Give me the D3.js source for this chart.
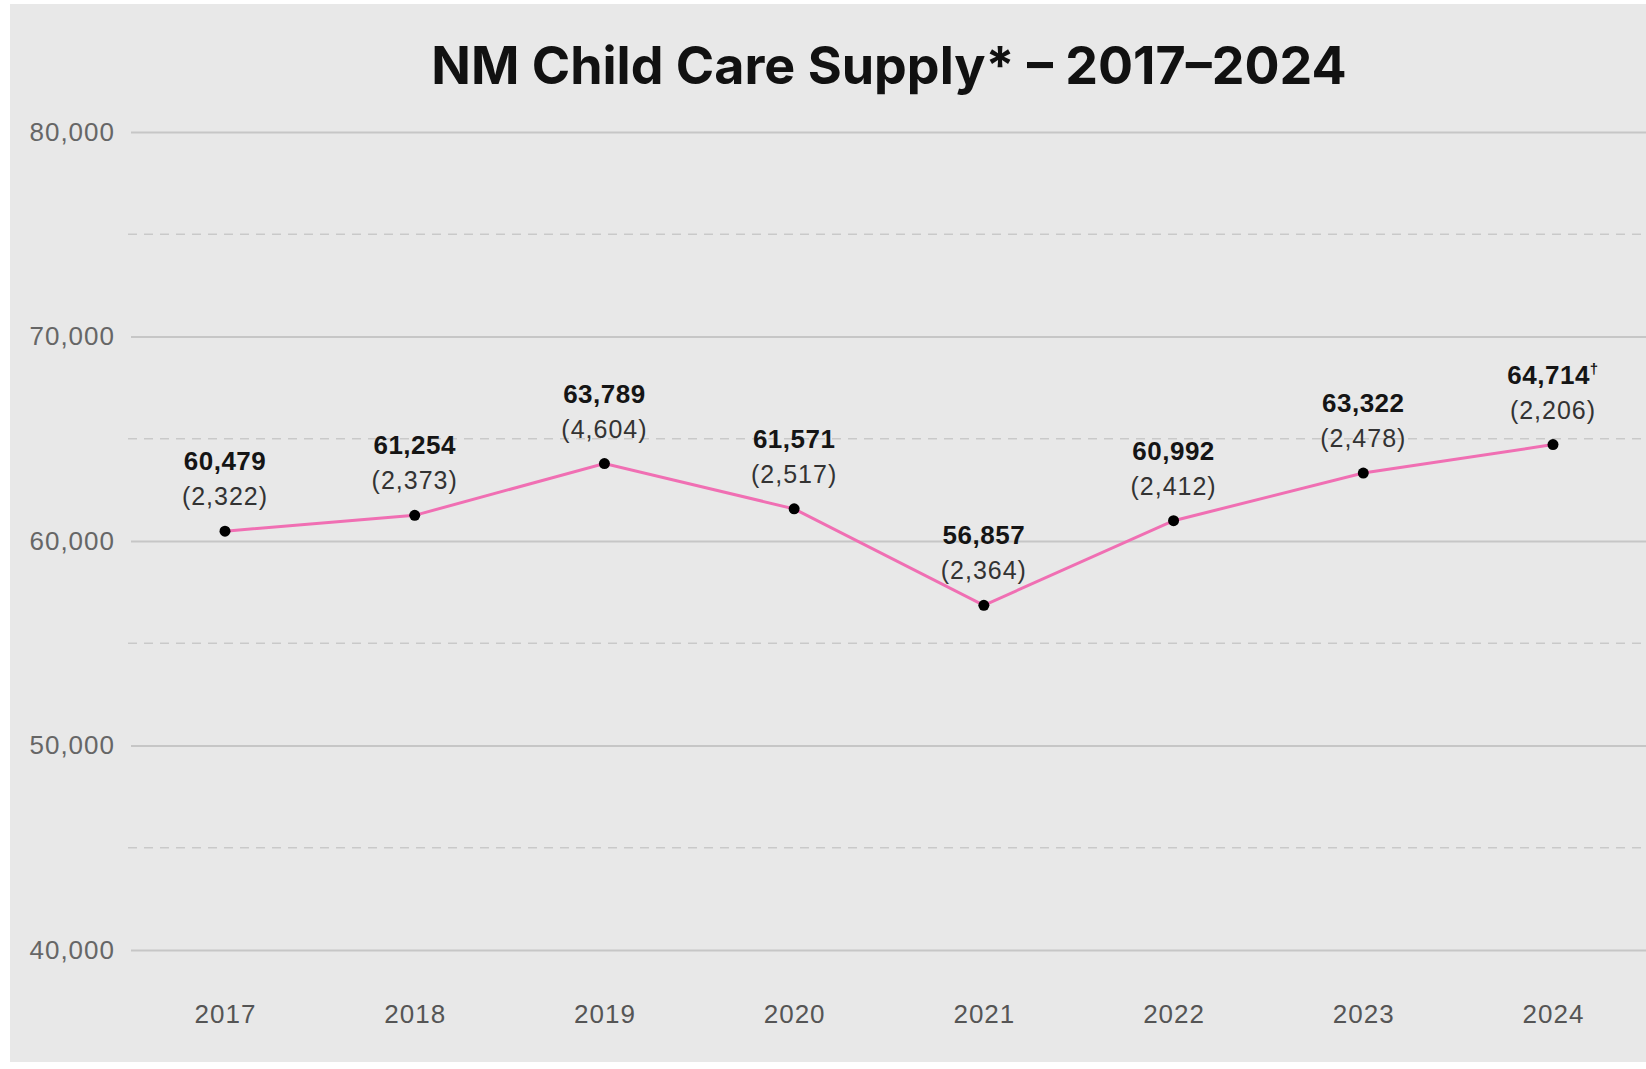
<!DOCTYPE html>
<html>
<head>
<meta charset="utf-8">
<script src="https://cdn.jsdelivr.net/npm/d3@7"></script>
<style>
  body { margin: 0; background: #ffffff; }
  svg { display: block; }
</style>
</head>
<body>
<svg id="chart"></svg>
<script>
// data
let years = ['2017', '2018', '2019', '2020', '2021', '2022', '2023', '2024']
let slots = [60479, 61254, 63789, 61571, 56857, 60992, 63322, 64714]
let providers = [2322, 2373, 4604, 2517, 2364, 2412, 2478, 2206]
let majorTicks = [40000, 50000, 60000, 70000, 80000]
let minorTicks = [45000, 55000, 65000, 75000]
let footnoteYear = '2024'

var width = 1646;
var height = 1069;

var svg = d3.select('#chart').attr('width', width).attr('height', height);

// gray panel, small white margin on top and left
svg.append('rect')
    .attr('x', 10).attr('y', 4)
    .attr('width', width - 10).attr('height', 1058)
    .attr('fill', '#e8e8e8')

var x = d3.scalePoint().domain(years).range([225, 1553])
var y = d3.scaleLinear().domain([40000, 80000]).range([950, 132])

const fmt = d3.format(',')
const labelFont = 'Liberation Sans, Arial, sans-serif'

// gridlines
svg.append('g')
    .selectAll('line')
    .data(minorTicks)
    .enter()
    .append('line')
    .attr('x1', 128).attr('x2', width)
    .attr('y1', d => y(d)).attr('y2', d => y(d))
    .attr('stroke', '#c9c9c9')
    .attr('stroke-width', 1.5)
    .attr('stroke-dasharray', '9,7')

var yAxis = svg.append('g')
    .attr('transform', 'translate(131,0)')
    .call(d3.axisLeft(y).tickValues(majorTicks).tickFormat(fmt).tickSize(-(width - 131)).tickPadding(16))
yAxis.select('.domain').remove()
yAxis.selectAll('.tick line').attr('stroke', '#c6c6c6').attr('stroke-width', 2)
yAxis.selectAll('.tick text')
    .attr('font-family', labelFont)
    .attr('font-size', 26)
    .attr('letter-spacing', 1)
    .attr('fill', '#666')

var xAxis = svg.append('g')
    .attr('transform', 'translate(0,950)')
    .call(d3.axisBottom(x).tickSize(0).tickPadding(55))
xAxis.select('.domain').remove()
xAxis.selectAll('.tick text')
    .attr('font-family', labelFont)
    .attr('font-size', 26)
    .attr('letter-spacing', 1)
    .attr('fill', '#555')

// title
svg.append('text')
    .attr('x', 889).attr('y', 84)
    .attr('text-anchor', 'middle')
    .attr('font-family', 'Inter, sans-serif')
    .attr('font-weight', 700)
    .attr('font-size', 52)
    .attr('fill', '#111')
    .text('NM Child Care Supply* \u2013 2017\u20132024')

let points = years.map((yr, i) => ({ year: yr, slots: slots[i], providers: providers[i] }))

var line = d3.line().x(d => x(d.year)).y(d => y(d.slots))

svg.append('path')
    .datum(points)
    .attr('d', line)
    .attr('fill', 'none')
    .attr('stroke', '#f06fb3')
    .attr('stroke-width', 3)

svg.selectAll('circle.pt')
    .data(points)
    .enter()
    .append('circle')
    .attr('class', 'pt')
    .attr('cx', d => x(d.year))
    .attr('cy', d => y(d.slots))
    .attr('r', 5.5)
    .attr('fill', '#000')

// labels above each point
var valueLabels = svg.selectAll('text.val')
    .data(points)
    .enter()
    .append('text')
    .attr('class', 'val')
    .attr('x', d => x(d.year))
    .attr('y', d => y(d.slots) - 61)
    .attr('text-anchor', 'middle')
    .attr('font-family', labelFont)
    .attr('font-weight', 700)
    .attr('font-size', 26)
    .attr('letter-spacing', 0.5)
    .attr('fill', '#151515')

valueLabels.append('tspan').text(d => fmt(d.slots))
valueLabels.filter(d => d.year == footnoteYear)
    .append('tspan')
    .attr('dy', -10)
    .attr('font-size', 15)
    .text('\u2020')

svg.selectAll('text.cnt')
    .data(points)
    .enter()
    .append('text')
    .attr('class', 'cnt')
    .attr('x', d => x(d.year))
    .attr('y', d => y(d.slots) - 26)
    .attr('text-anchor', 'middle')
    .attr('font-family', labelFont)
    .attr('font-size', 25)
    .attr('letter-spacing', 1)
    .attr('fill', '#333')
    .text(d => '(' + fmt(d.providers) + ')')
</script>
</body>
</html>
